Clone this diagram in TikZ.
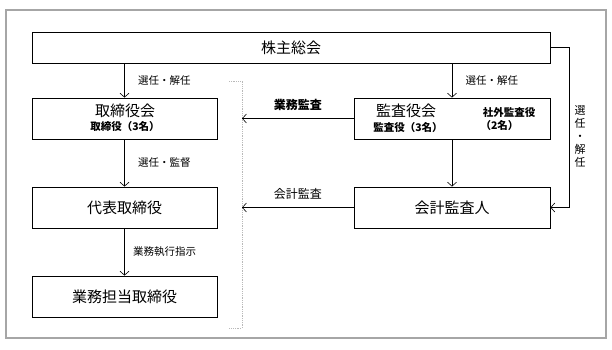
\documentclass[tikz,border=0pt]{standalone}
\usepackage{fontspec}
\setmainfont{Noto Sans CJK JP}
\usetikzlibrary{arrows.meta}

\begin{document}
\begin{tikzpicture}[x=1pt,y=-1pt,
  box/.style={draw,line width=0.8pt,inner sep=0pt,font=\fontsize{15}{17}\selectfont},
  lbl/.style={font=\fontsize{10.5}{12}\selectfont},
  sub/.style={font=\bfseries\fontsize{10.5}{12}\selectfont},
  arr/.style={line width=0.6pt,-{Straight Barb[length=4pt,width=9pt]}}]
\useasboundingbox (0,0) rectangle (612,350);
\draw[gray!70,line width=1.3pt] (6,10) rectangle (606,338);
\node[box,minimum width=518pt,minimum height=31pt] (soukai) at (291,47.5) {株主総会};
\node[box,minimum width=185pt,minimum height=41pt] (torikai) at (124.5,118.5) {};
\node[font=\fontsize{15}{17}\selectfont] (torit) at (125,111) {取締役会};
\node[sub] (toris) at (125,126.5) {取締役（3名）};
\node[box,minimum width=185pt,minimum height=41pt] (daihyo) at (124.5,207.5) {代表取締役};
\node[box,minimum width=185pt,minimum height=41pt] (gyomu) at (124.5,296.5) {業務担当取締役};
\node[box,minimum width=196pt,minimum height=41pt] (kansakai) at (452,118.5) {};
\node[font=\fontsize{15}{17}\selectfont] (kansat) at (406,111) {監査役会};
\node[sub] (kansas) at (408,128) {監査役（3名）};
\node[sub] (shagai) at (509,112.5) {社外監査役};
\node[sub,anchor=west] (shagain) at (477,125.5) {（2名）};
\node[box,minimum width=196pt,minimum height=41pt] (kaikei) at (452,207.5) {会計監査人};
\coordinate (brtop) at (242,81);
\coordinate (brbot) at (242,328);
\draw[gray!55,line width=0.8pt,densely dotted] ([xshift=-13pt]brtop) -- (brtop) -- (brbot) -- ([xshift=-13pt]brbot);
\draw[arr] (soukai.south -| torikai.north) -- (torikai.north) node[midway,right=10pt,lbl]{選任・解任};
\draw[arr] (soukai.south -| kansakai.north) -- (kansakai.north) node[midway,right=10pt,lbl]{選任・解任};
\draw[arr] (torikai) -- (daihyo) node[midway,right=10pt,lbl]{選任・監督};
\draw[arr] (daihyo) -- (gyomu) node[midway,right=5pt,lbl]{業務執行指示};
\draw[arr] (kansakai) -- (kaikei);
\draw[arr] (kansakai.west) -- (kansakai.west -| brtop) node[midway,above=4pt,font=\bfseries\fontsize{12}{14}\selectfont]{業務監査};
\draw[arr] (kaikei.west) -- (kaikei.west -| brtop) node[midway,above=4pt,font=\fontsize{12}{14}\selectfont]{会計監査};
\draw[arr] (soukai.east) -- ++(19,0) |- (kaikei.east);
\node[lbl,align=center,font=\fontsize{11}{13}\selectfont] (senin) at (580,136) {選\\任\\・\\解\\任};
\end{tikzpicture}
\end{document}
